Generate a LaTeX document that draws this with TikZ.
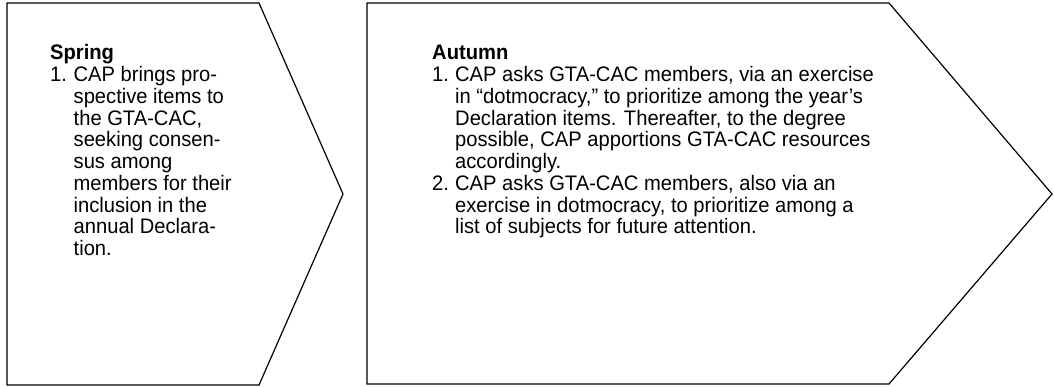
\documentclass[tikz,border=0pt]{standalone}
\usepackage{fontspec}
\setmainfont[FakeStretch=0.96]{Liberation Sans}
\usepackage{array}
\tikzset{
    %Define style for the season arrows
    season/.style={
           draw=black,
           line width=1.2pt,
           line join=miter},
    %Define style for the notes inside
    notes/.style={
           anchor=base west,
           inner sep=0pt,
           font=\fontsize{21}{21.7}\selectfont},
}

\begin{document}
\begin{tikzpicture}[x=1pt,y=-1pt]
\useasboundingbox (0,0) rectangle (1054,387);
\draw[season] (7,3) coordinate (sprtop) -- (259,3) -- (343,194) coordinate (sprtip) -- (259,385) -- (7,385) -- cycle;
\draw[season] (367,3) coordinate (auttop) -- (889,3) -- (1052,194) coordinate (auttip) -- (889,384) -- (367,384) -- cycle;
\node[notes] (spring) at (50,60) {%
\begin{tabular}[t]{@{}p{23.5pt}@{}l@{}}
\multicolumn{2}{@{}l@{}}{\bfseries Spring}\\
1.&CAP brings pro-\\
  &spective items to\\
  &the GTA-CAC,\\
  &seeking consen-\\
  &sus among\\
  &members for their\\
  &inclusion in the\\
  &annual Declara-\\
  &tion.
\end{tabular}};
\node[notes] (autumn) at (432,60) {%
\begin{tabular}[t]{@{}p{23pt}@{}l@{}}
\multicolumn{2}{@{}l@{}}{\bfseries Autumn}\\
1.&CAP asks GTA-CAC members, via an exercise\\
  &in “dotmocracy,” to prioritize among the year’s\\
  &Declaration items. Thereafter, to the degree\\
  &possible, CAP apportions GTA-CAC resources\\
  &accordingly.\\
2.&CAP asks GTA-CAC members, also via an\\
  &exercise in dotmocracy, to prioritize among a\\
  &list of subjects for future attention.
\end{tabular}};
\end{tikzpicture}
\end{document}
